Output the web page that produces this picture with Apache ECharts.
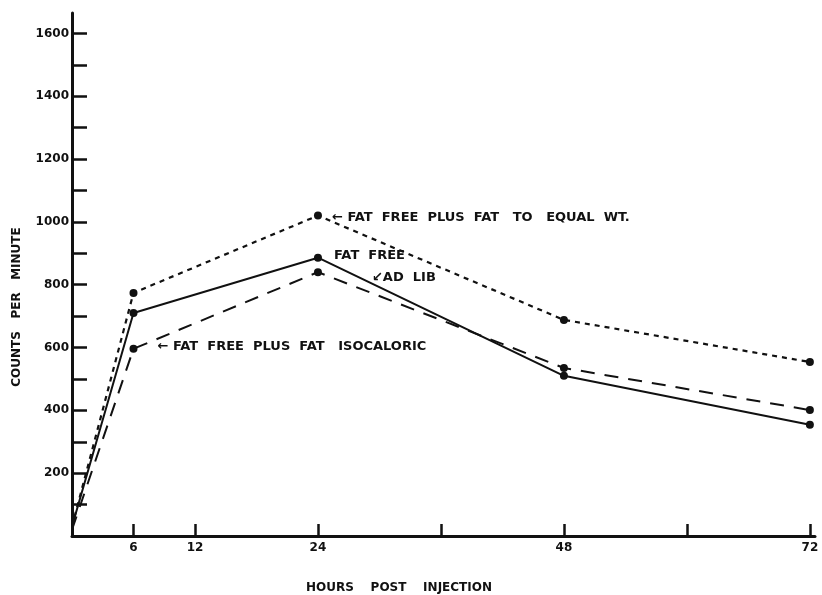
<!DOCTYPE html>
<html>
<head>
<meta charset="utf-8">
<script src="https://cdn.jsdelivr.net/npm/echarts@6/dist/echarts.min.js"></script>
<style>
  html, body { margin: 0; padding: 0; background: #fff; }
  #chart { width: 822px; height: 595px; }
</style>
</head>
<body>
<div id="chart"></div>
<script>
// Hours after injection at which counts were taken
const hours = [0, 6, 24, 48, 72];

// Counts per minute for each diet group
const fatFreeAdLib = [30, 710, 886, 510, 354];
const fatFreePlusFatEqualWt = [30, 774, 1020, 688, 554];
const fatFreePlusFatIsocaloric = [20, 596, 840, 535, 401];

// Axis ticks and labels
const xTickValues = [6, 12, 24, 36, 48, 60, 72];
const xLabelValues = [6, 12, 24, 48, 72];
const yTickValues = [0, 100, 200, 300, 400, 500, 600, 700, 800, 900, 1000, 1100, 1200, 1300, 1400, 1500, 1600];
const yLabelValues = [200, 400, 600, 800, 1000, 1200, 1400, 1600];

// Annotation texts
const labelEqualWt = '\u2190 FAT  FREE  PLUS  FAT   TO   EQUAL  WT.';
const labelFatFree = 'FAT  FREE';
const labelAdLib = '\u2199AD  LIB';
const labelIsocaloric = '\u2190 FAT  FREE  PLUS  FAT   ISOCALORIC';

const ink = '#111';
const font = 'DejaVu Sans';

// The curves start from the origin without a plotted point there
const pairs = (ys) => hours.map((h, i) => i === 0
  ? { value: [h, ys[i]], symbol: 'none' }
  : { value: [h, ys[i]] });

const noteStyle = {
  color: ink,
  fontFamily: font,
  fontSize: 13,
  fontWeight: 'bold'
};

const withLabel = (items, idx, label) => {
  items[idx].label = Object.assign({ show: true }, label, noteStyle);
  return items;
};

const chart = echarts.init(document.getElementById('chart'), null, { renderer: 'canvas' });

chart.setOption({
  backgroundColor: '#fff',
  animation: false,
  grid: { left: 72, right: 7, top: 13, bottom: 59 },
  xAxis: {
    type: 'value',
    min: 0,
    max: 72.5,
    axisLine: { show: true, onZero: false, lineStyle: { color: ink, width: 3 } },
    axisTick: { show: true, inside: true, length: 12, customValues: xTickValues, lineStyle: { color: ink, width: 2.5 } },
    axisLabel: {
      customValues: xLabelValues,
      formatter: (v) => String(v),
      color: ink, fontFamily: font, fontSize: 12, fontWeight: 'bold', margin: 6
    },
    splitLine: { show: false }
  },
  yAxis: {
    type: 'value',
    min: 0,
    max: 1665,
    axisLine: { show: true, onZero: false, lineStyle: { color: ink, width: 3 } },
    axisTick: { show: true, inside: true, length: 15, customValues: yTickValues, lineStyle: { color: ink, width: 2.5 } },
    axisLabel: {
      customValues: yLabelValues,
      formatter: (v) => String(v),
      color: ink, fontFamily: font, fontSize: 12, fontWeight: 'bold', margin: 3
    },
    splitLine: { show: false }
  },
  graphic: [
    {
      type: 'text',
      x: 17, y: 307,
      rotation: Math.PI / 2,
      style: {
        text: 'COUNTS   PER   MINUTE',
        fill: ink, font: 'bold 12px "DejaVu Sans"',
        align: 'center', verticalAlign: 'middle'
      }
    },
    {
      type: 'text',
      x: 399, y: 588,
      style: {
        text: 'HOURS    POST    INJECTION',
        fill: ink, font: 'bold 12px "DejaVu Sans"',
        align: 'center', verticalAlign: 'middle'
      }
    }
  ],
  series: [
    {
      name: 'FAT FREE PLUS FAT TO EQUAL WT.',
      type: 'line',
      data: withLabel(pairs(fatFreePlusFatEqualWt), 2,
        { position: 'right', distance: 10, offset: [0, 2], formatter: labelEqualWt }),
      symbol: 'circle',
      symbolSize: 8,
      itemStyle: { color: ink },
      lineStyle: { color: ink, width: 2.2, type: [5, 5] },
      z: 3
    },
    {
      name: 'FAT FREE AD LIB',
      type: 'line',
      data: withLabel(pairs(fatFreeAdLib), 2,
        { position: 'right', distance: 12, offset: [0, -2], formatter: labelFatFree }),
      symbol: 'circle',
      symbolSize: 8,
      itemStyle: { color: ink },
      lineStyle: { color: ink, width: 2 },
      markPoint: {
        symbol: 'circle',
        symbolSize: 0,
        data: [{
          coord: [hours[2], fatFreeAdLib[2]],
          label: Object.assign({ show: true, position: 'right', distance: 0, offset: [54, 20], formatter: labelAdLib }, noteStyle)
        }]
      },
      z: 3
    },
    {
      name: 'FAT FREE PLUS FAT ISOCALORIC',
      type: 'line',
      data: withLabel(pairs(fatFreePlusFatIsocaloric), 1,
        { position: 'right', distance: 20, offset: [0, -2], formatter: labelIsocaloric }),
      symbol: 'circle',
      symbolSize: 8,
      itemStyle: { color: ink },
      lineStyle: { color: ink, width: 2, type: [14, 10] },
      z: 3
    }
  ]
});
</script>
</body>
</html>
